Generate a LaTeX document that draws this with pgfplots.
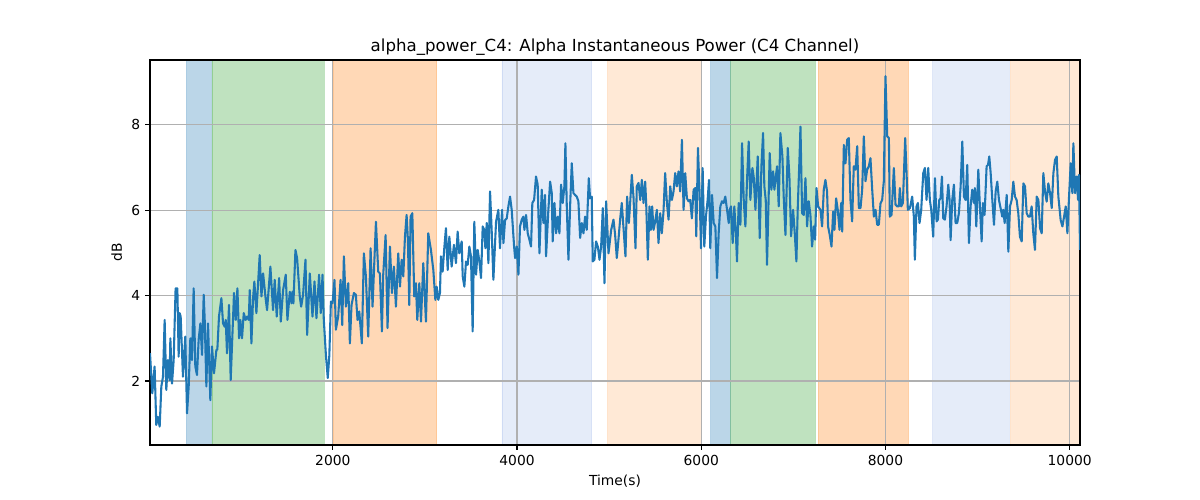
\documentclass[border=0pt]{standalone}
\usepackage{fontspec}
\setmainfont{DejaVu Sans}
\usepackage{pgfplots}
\pgfplotsset{compat=1.18}
\definecolor{tabblue}{RGB}{31,119,180}
\definecolor{taborange}{RGB}{255,127,14}
\definecolor{tabgreen}{RGB}{44,160,44}
\definecolor{softblue}{RGB}{100,140,220}
\definecolor{gridgray}{RGB}{176,176,176}
\pgfplotstableread{
x y
15 2.65
40 1.71
65 2.34
83 0.97
101 1.16
120 0.93
138 1.87
156 2.10
174 3.43
192 1.79
210 2.49
228 2.02
236 3.00
254 1.94
272 2.49
293 4.17
312 4.17
326 2.57
337 3.59
348 3.51
373 2.10
398 3.04
417 1.24
435 1.87
453 3.00
471 2.49
489 4.17
507 2.34
525 2.14
543 2.96
562 3.35
580 2.61
598 4.02
609 3.43
627 1.87
645 3.35
670 1.55
688 2.81
710 2.18
736 2.73
746 2.73
764 3.51
790 3.94
808 3.35
826 3.27
837 3.43
851 2.65
873 3.78
891 2.02
927 4.06
946 3.43
964 4.17
982 3.00
996 3.43
1014 3.00
1033 3.59
1054 3.43
1069 3.51
1087 3.43
1098 4.13
1116 2.88
1134 3.94
1148 4.33
1170 3.59
1206 4.95
1225 3.98
1243 4.52
1272 3.90
1286 3.66
1322 4.68
1351 3.66
1369 4.37
1391 3.51
1417 4.41
1435 3.39
1460 4.13
1489 4.49
1507 3.43
1533 4.09
1551 3.82
1562 4.09
1572 3.82
1594 5.07
1612 4.88
1641 3.98
1656 3.74
1677 4.02
1703 4.84
1721 3.08
1750 4.52
1779 3.51
1801 4.33
1822 3.47
1851 4.49
1869 3.59
1888 4.49
1902 3.43
1925 2.60
1945 2.07
1962 2.60
1979 3.86
1997 3.82
2018 4.37
2033 3.20
2058 3.51
2084 4.37
2102 3.31
2120 4.92
2142 3.74
2167 4.29
2185 2.88
2203 3.78
2229 4.06
2250 4.02
2268 3.43
2287 3.63
2315 2.88
2337 4.99
2359 4.45
2384 3.04
2410 5.11
2431 3.74
2468 5.73
2493 4.56
2511 4.52
2533 3.16
2547 4.49
2573 5.42
2594 3.24
2620 5.15
2642 4.06
2663 4.68
2685 3.74
2710 4.99
2729 4.21
2747 4.84
2765 4.45
2783 5.38
2801 5.89
2815 5.31
2830 3.78
2844 5.85
2863 5.93
2884 3.98
2902 4.29
2917 3.43
2939 4.29
2957 3.39
2982 4.76
3011 3.39
3036 5.46
3065 5.07
3091 4.60
3113 3.90
3127 4.21
3145 3.90
3163 4.06
3174 4.92
3192 4.56
3210 5.11
3228 5.58
3247 4.60
3265 5.38
3290 4.68
3315 5.19
3337 4.76
3355 5.50
3373 4.99
3399 5.27
3410 4.45
3428 4.21
3446 4.80
3464 4.72
3482 5.15
3500 4.92
3518 3.16
3536 5.73
3555 4.49
3573 5.07
3591 4.80
3609 4.41
3627 5.62
3645 5.54
3656 5.11
3671 5.70
3689 4.76
3707 6.44
3725 5.50
3743 4.37
3772 5.73
3797 6.01
3815 5.11
3837 6.01
3852 5.23
3870 5.77
3888 5.81
3906 6.09
3924 6.32
3942 6.01
3968 5.15
3979 4.88
3997 5.15
4015 4.49
4032 5.62
4051 5.78
4069 5.85
4080 5.54
4098 5.89
4116 5.46
4134 5.31
4152 5.15
4166 6.17
4185 6.24
4206 6.79
4224 6.60
4243 4.99
4268 6.48
4286 5.70
4304 6.36
4315 4.92
4340 6.01
4359 6.67
4377 6.40
4387 5.27
4406 6.17
4424 5.46
4442 5.85
4460 5.46
4478 6.60
4496 6.17
4514 6.56
4525 7.57
4540 6.09
4558 4.84
4576 6.09
4594 7.10
4612 6.40
4630 6.36
4648 6.32
4666 6.21
4685 5.35
4703 5.70
4721 5.46
4739 5.85
4757 5.54
4779 6.75
4793 6.28
4811 6.32
4822 4.80
4840 4.84
4858 5.27
4877 5.15
4895 4.84
4913 5.15
4931 6.05
4949 4.29
4967 6.21
4993 4.99
5022 5.54
5047 5.78
5065 5.42
5083 4.88
5101 5.31
5119 5.78
5137 6.17
5156 5.58
5177 4.92
5195 6.32
5214 5.70
5228 6.17
5246 6.83
5264 6.32
5286 5.11
5300 6.56
5319 6.64
5337 6.24
5355 6.71
5373 6.17
5391 6.67
5402 6.17
5420 4.84
5438 6.09
5453 5.54
5467 6.09
5482 5.54
5500 5.74
5518 6.01
5536 5.23
5554 5.93
5572 5.46
5590 5.97
5608 6.87
5627 6.17
5645 5.78
5663 6.56
5681 6.24
5699 6.44
5717 6.87
5735 6.56
5753 6.91
5771 6.44
5790 7.65
5808 6.01
5826 6.87
5844 6.28
5862 6.21
5880 6.24
5898 5.81
5917 6.48
5935 6.52
5946 5.39
5964 7.46
5982 6.40
5997 5.11
6015 6.99
6033 5.15
6051 5.85
6069 6.24
6084 6.71
6098 5.11
6117 6.36
6135 5.70
6153 5.62
6171 4.41
6189 5.46
6207 6.09
6225 6.21
6243 6.17
6261 6.32
6280 6.01
6298 5.70
6309 6.01
6323 6.09
6341 5.23
6359 6.09
6377 5.39
6388 4.80
6406 6.17
6425 5.66
6443 7.57
6461 6.24
6479 5.62
6497 6.71
6515 7.61
6533 6.24
6555 6.99
6569 6.79
6588 6.01
6613 7.26
6635 5.35
6653 7.03
6671 7.81
6685 6.56
6700 6.24
6714 4.72
6743 7.34
6761 6.48
6780 6.91
6794 6.48
6805 6.71
6823 7.03
6841 6.09
6859 7.81
6881 7.26
6895 6.32
6914 5.42
6939 7.46
6957 6.79
6975 5.39
6997 6.01
7015 5.46
7033 4.80
7048 6.09
7066 7.18
7077 7.96
7095 5.93
7113 5.89
7131 6.75
7149 5.62
7167 6.21
7185 5.89
7203 5.15
7222 5.62
7236 5.31
7251 6.52
7269 6.09
7294 6.01
7312 5.62
7330 6.48
7348 6.71
7366 6.44
7377 5.62
7395 5.42
7414 5.15
7432 5.97
7446 5.54
7464 6.28
7482 6.01
7501 5.54
7519 6.17
7530 5.50
7548 7.53
7566 7.10
7584 7.65
7602 7.69
7620 6.24
7638 5.74
7656 7.03
7674 6.95
7693 7.50
7711 6.05
7729 6.05
7747 6.48
7765 7.73
7783 6.68
7801 6.95
7819 7.03
7837 7.22
7856 6.48
7874 5.85
7892 6.01
7910 5.66
7928 5.66
7946 6.16
7964 6.24
7982 6.68
8000 9.14
8019 7.73
8037 7.69
8047 5.85
8066 5.89
8091 6.99
8109 6.13
8127 6.09
8145 6.09
8156 6.52
8171 6.09
8189 6.17
8214 7.69
8229 6.87
8243 6.01
8265 6.05
8290 6.32
8308 5.85
8319 4.84
8337 6.09
8352 6.17
8370 5.70
8388 6.01
8410 6.87
8428 6.99
8446 6.24
8464 6.99
8482 6.24
8497 6.01
8518 5.38
8537 6.75
8555 5.74
8569 5.78
8584 6.24
8598 6.28
8613 6.79
8627 5.81
8645 5.78
8663 6.09
8682 6.60
8696 6.24
8707 5.30
8725 6.24
8743 6.60
8761 5.70
8779 5.70
8797 5.93
8816 6.56
8834 7.61
8852 6.32
8870 6.24
8888 7.06
8906 5.23
8924 6.09
8942 6.48
8960 6.17
8971 6.52
8986 5.62
9008 6.95
9022 6.24
9044 5.27
9058 6.17
9076 5.89
9098 7.03
9113 7.06
9127 7.26
9142 6.87
9160 6.24
9178 5.66
9196 6.44
9214 6.67
9232 6.24
9250 6.05
9268 5.85
9279 6.01
9294 5.70
9316 6.36
9334 5.03
9352 6.09
9370 6.24
9388 6.67
9406 6.32
9424 6.24
9442 5.93
9460 5.38
9479 5.27
9497 6.63
9515 6.56
9533 5.93
9551 5.85
9569 5.85
9587 6.09
9605 5.46
9623 5.07
9642 6.32
9660 6.24
9678 5.58
9696 5.46
9714 6.87
9732 6.44
9750 6.20
9768 6.63
9787 6.40
9805 6.05
9823 6.87
9841 7.18
9859 7.26
9877 6.32
9902 5.77
9921 5.62
9939 5.85
9957 6.09
9975 5.46
9993 6.32
10011 7.10
10029 6.40
10040 7.57
10058 6.40
10076 6.79
10091 6.24
10101 6.83
10112 5.07
}\alphadata
\pgfplotsset{
  span/.style 2 args={fill=#1, fill opacity=#2, draw=#1, draw opacity=#2, line width=0.6pt, forget plot, on layer=axis background},
}
\begin{document}
\begin{tikzpicture}
\path (0,0) rectangle (12in,5in);
\begin{axis}[
  at={(1.5in,0.55in)}, anchor=south west,
  scale only axis, width=9.3in, height=3.85in,
  set layers,
  xmin=15, xmax=10112, ymin=0.5, ymax=9.52,
  xtick={2000,4000,6000,8000,10000}, ytick={2,4,6,8},
  scaled x ticks=false,
  /pgf/number format/1000 sep={},
  /pgf/number format/assume math mode=true,
  grid=major,
  major grid style={color=gridgray, line width=0.8pt},
  tick align=outside, tick pos=left,
  major tick length=3.5pt,
  tick style={black, line width=0.8pt},
  axis line style={black, line width=0.8pt},
  ticklabel style={font=\fontsize{10}{12}\selectfont},
  label style={font=\fontsize{10}{12}\selectfont},
  xlabel={Time(s)}, ylabel={dB},
  title={alpha\_power\_C4: Alpha Instantaneous Power (C4 Channel)},
  title style={font=\fontsize{12}{14}\selectfont, yshift=-6.5pt},
]
\addplot[span={tabblue}{0.3}] coordinates {(413,0.5) (413,9.52) (677,9.52) (677,0.5) (413,0.5)};
\addplot[span={tabgreen}{0.3}] coordinates {(688,0.5) (688,9.52) (1904,9.52) (1904,0.5) (688,0.5)};
\addplot[span={taborange}{0.3}] coordinates {(2005,0.5) (2005,9.52) (3127,9.52) (3127,0.5) (2005,0.5)};
\addplot[span={softblue}{0.17}] coordinates {(3836,0.5) (3836,9.52) (4810,9.52) (4810,0.5) (3836,0.5)};
\addplot[span={taborange}{0.17}] coordinates {(4984,0.5) (4984,9.52) (6005,9.52) (6005,0.5) (4984,0.5)};
\addplot[span={tabblue}{0.3}] coordinates {(6103,0.5) (6103,9.52) (6312,9.52) (6312,0.5) (6103,0.5)};
\addplot[span={tabgreen}{0.3}] coordinates {(6320,0.5) (6320,9.52) (7235,9.52) (7235,0.5) (6320,0.5)};
\addplot[span={taborange}{0.3}] coordinates {(7271,0.5) (7271,9.52) (8248,9.52) (8248,0.5) (7271,0.5)};
\addplot[span={softblue}{0.17}] coordinates {(8513,0.5) (8513,9.52) (9343,9.52) (9343,0.5) (8513,0.5)};
\addplot[span={taborange}{0.17}] coordinates {(9360,0.5) (9360,9.52) (10112,9.52) (10112,0.5) (9360,0.5)};
\addplot[tabblue, line width=1.5pt, line join=round] table[x=x, y=y] {\alphadata};
\end{axis}
\end{tikzpicture}
\end{document}
